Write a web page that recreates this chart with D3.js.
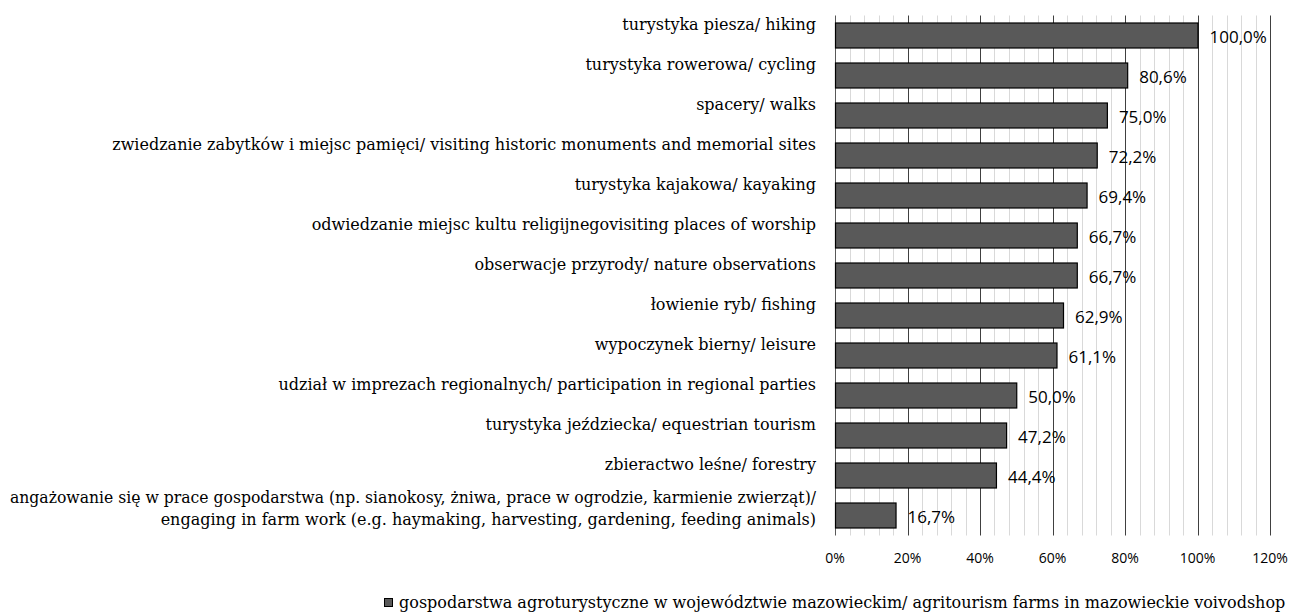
<!DOCTYPE html>
<html>
<head>
<meta charset="utf-8">
<script src="https://cdn.jsdelivr.net/npm/d3@7"></script>
<style>
  body { margin: 0; background: #fff; }
  svg { display: block; }
</style>
</head>
<body>
<svg width="1293" height="616"></svg>
<script>
// categories, top to bottom
var categories = [
  "turystyka piesza/ hiking",
  "turystyka rowerowa/ cycling",
  "spacery/ walks",
  "zwiedzanie zabytków i miejsc pamięci/ visiting historic monuments and memorial sites",
  "turystyka kajakowa/ kayaking",
  "odwiedzanie miejsc kultu religijnegovisiting places of worship",
  "obserwacje przyrody/ nature observations",
  "łowienie ryb/ fishing",
  "wypoczynek bierny/ leisure",
  "udział w imprezach regionalnych/ participation in regional parties",
  "turystyka jeździecka/ equestrian tourism",
  "zbieractwo leśne/ forestry",
  "angażowanie się w prace gospodarstwa (np. sianokosy, żniwa, prace w ogrodzie, karmienie zwierząt)/\nengaging in farm work (e.g. haymaking, harvesting, gardening, feeding animals)"
];
var values = [100.0, 80.6, 75.0, 72.2, 69.4, 66.7, 66.7, 62.9, 61.1, 50.0, 47.2, 44.4, 16.7];
var tickValues = [0, 20, 40, 60, 80, 100, 120];
var seriesName = "gospodarstwa agroturystyczne w województwie mazowieckim/ agritourism farms in mazowieckie voivodshop";

var svg = d3.select("svg");
var serif = "'DejaVu Serif', 'Liberation Serif', serif";
var sans = "'Open Sans', 'Noto Sans', sans-serif";

var x = d3.scaleLinear().domain([0, 120]).range([835, 1270]);
var y = d3.scaleBand().domain(categories).range([15.5, 535.5]).paddingInner(0.375).paddingOuter(0.1875);

// minor grid every 4%
svg.append("g").selectAll("line")
    .data(d3.range(4, 121, 4).filter(function(d) { return d % 20 !== 0; }))
  .enter().append("line")
    .attr("x1", function(d) { return Math.round(x(d)) + 0.5; })
    .attr("x2", function(d) { return Math.round(x(d)) + 0.5; })
    .attr("y1", 15.5).attr("y2", 535.5)
    .attr("stroke", "#d9d9d9");

// major grid
svg.append("g").selectAll("line")
    .data(tickValues)
  .enter().append("line")
    .attr("x1", function(d) { return Math.round(x(d)) + 0.5; })
    .attr("x2", function(d) { return Math.round(x(d)) + 0.5; })
    .attr("y1", 15.5).attr("y2", 535.5)
    .attr("stroke", function(d) { return d === 0 ? "#595959" : "#404040"; });

// bars
svg.append("g").selectAll("rect")
    .data(values)
  .enter().append("rect")
    .attr("x", x(0) + 0.5)
    .attr("y", function(d, i) { return y(categories[i]); })
    .attr("width", function(d) { return x(d) - x(0); })
    .attr("height", y.bandwidth())
    .attr("fill", "#595959")
    .attr("stroke", "#000")
    .attr("stroke-width", 1.2);

// value labels
svg.append("g").selectAll("text")
    .data(values)
  .enter().append("text")
    .attr("x", function(d) { return x(d) + 12; })
    .attr("y", function(d, i) { return y(categories[i]) + y.bandwidth() / 2 + 7; })
    .attr("font-family", sans)
    .attr("font-size", 17)
    .attr("fill", "#000")
    .text(function(d) { return d.toFixed(1).replace(".", ",") + "%"; });

// category labels (squeezed when wider than the left margin)
var labelRight = 816, labelMax = 806;
var cat = svg.append("g").selectAll("text")
    .data(categories)
  .enter().append("text")
    .attr("font-family", serif)
    .attr("font-size", 16)
    .attr("fill", "#000")
    .attr("text-anchor", "end");

cat.each(function(d) {
  var lines = d.split("\n");
  var cy = y(d) + y.bandwidth() / 2 - (lines.length > 1 ? 7 : 11);
  var t = d3.select(this);
  lines.forEach(function(l, k) {
    var ts = t.append("tspan")
        .attr("x", labelRight)
        .attr("y", cy + 5 + (k - (lines.length - 1) / 2) * 22)
        .text(l);
    var w = ts.node().getComputedTextLength();
    if (w > labelMax) ts.attr("textLength", labelMax).attr("lengthAdjust", "spacingAndGlyphs");
  });
});

// x axis tick labels
svg.append("g").selectAll("text")
    .data(tickValues)
  .enter().append("text")
    .attr("x", function(d) { return x(d); })
    .attr("y", 563)
    .attr("text-anchor", "middle")
    .attr("font-family", sans)
    .attr("font-size", 14)
    .attr("fill", "#000")
    .text(function(d) { return d + "%"; });

// legend
var lg = svg.append("g");
lg.append("rect")
    .attr("x", 384.5).attr("y", 598.5)
    .attr("width", 8).attr("height", 8)
    .attr("fill", "#595959").attr("stroke", "#000");
lg.append("text")
    .attr("x", 399).attr("y", 608)
    .attr("font-family", serif)
    .attr("font-size", 16)
    .attr("fill", "#000")
    .text(seriesName);
</script>
</body>
</html>
